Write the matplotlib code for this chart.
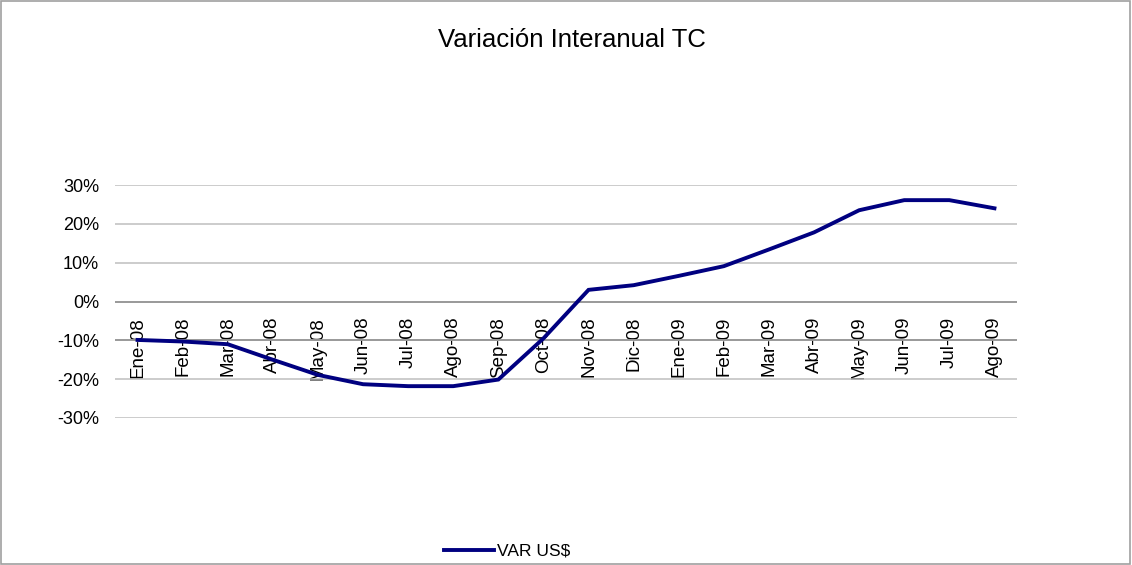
import numpy as np
import matplotlib
matplotlib.use("Agg")
import matplotlib.pyplot as plt
from matplotlib.ticker import FuncFormatter

plt.rcParams['font.family'] = ['Liberation Sans', 'DejaVu Sans']

# data (year-on-year change, %)
meses = ['Ene-08', 'Feb-08', 'Mar-08', 'Abr-08', 'May-08', 'Jun-08', 'Jul-08',
         'Ago-08', 'Sep-08', 'Oct-08', 'Nov-08', 'Dic-08', 'Ene-09', 'Feb-09',
         'Mar-09', 'Abr-09', 'May-09', 'Jun-09', 'Jul-09', 'Ago-09']
var_usd = [-9.9, -10.3, -11.0, -15.0, -18.9, -21.3, -21.8, -21.8, -20.1, -9.5,
           3.0, 4.2, 6.6, 9.1, 13.4, 17.8, 23.5, 26.1, 26.1, 24.0]
yticks = [-30, -20, -10, 0, 10, 20, 30]

W, H = 1132, 565
fig = plt.figure(figsize=(W / 100, H / 100), dpi=100)

# plot area in pixels: x 115..1017, y 185..418
left, right, top, bottom = 115, 1017, 185, 418
ax = fig.add_axes([left / W, 1 - bottom / H, (right - left) / W, (bottom - top) / H])

x = np.arange(len(meses))
ax.plot(x, var_usd, color='#000080', lw=2.8, solid_joinstyle='miter',
        label='VAR US$', zorder=3)

ax.set_xlim(-0.5, len(meses) - 0.5)
ax.set_ylim(-30, 30)
ax.set_yticks(yticks)
ax.yaxis.set_major_formatter(FuncFormatter(lambda v, p: '%d%%' % v))
ax.grid(axis='y', color='#BEBEBE', lw=1.1)
ax.set_axisbelow(True)
for v in (0, -10):
    ax.axhline(v, color='#8C8C8C', lw=1.1, zorder=1)

for s in ['left', 'right', 'top']:
    ax.spines[s].set_visible(False)
ax.spines['bottom'].set_position(('data', 0))
ax.spines['bottom'].set_visible(False)

ax.set_xticks(x)
ax.set_xticklabels(meses, rotation=90, va='top', ha='center')
ax.tick_params(axis='x', length=0, pad=11, labelsize=13.5, colors='black')
ax.tick_params(axis='y', length=0, pad=11.5, labelsize=13, colors='black')

fig.text(572 / W, 1 - 40 / H, 'Variación Interanual TC', ha='center', va='center',
         fontsize=18.5)

fig.legend(loc='center', bbox_to_anchor=(507 / W, 1 - 551 / H), frameon=False,
           fontsize=12.5, handlelength=2.9, handletextpad=0.15, borderpad=0)

# outer border of the chart
fig.patches.append(plt.Rectangle((0.001, 0.002), 0.997, 0.996, transform=fig.transFigure,
                                 fill=False, edgecolor='#A0A0A0', lw=1.2))

fig.savefig('out.png', dpi=100)
